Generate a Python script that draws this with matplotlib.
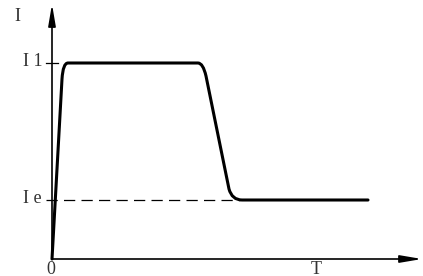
import matplotlib
matplotlib.use('Agg')
import matplotlib.pyplot as plt
from matplotlib.path import Path
from matplotlib.patches import PathPatch

# current levels
I1 = 196
Ie = 59
t_end = 316

# curve key points (time, current) with bezier corners
time_pts = [0, 10, 11, 16, 146, 151, 154, 177, 180, 190, t_end]
current_pts = [0, 180, I1, I1, I1, I1, 183, 70, Ie, Ie, Ie]
codes = [Path.MOVETO, Path.LINETO, Path.CURVE3, Path.CURVE3, Path.LINETO,
         Path.CURVE3, Path.CURVE3, Path.LINETO, Path.CURVE3, Path.CURVE3,
         Path.LINETO]

y_labels = ['I 1', 'I e']
y_levels = [I1, Ie]

plt.rcParams['font.family'] = ['Liberation Serif', 'DejaVu Serif']

fig = plt.figure(figsize=(4.23, 2.76), dpi=100)
ax = fig.add_axes([0, 0, 1, 1])
ax.set_xlim(-52, 371)
ax.set_ylim(-17, 259)
ax.axis('off')

# axes with arrows
arrow = dict(arrowstyle='-|>,head_length=1.3,head_width=0.22', mutation_scale=10,
             lw=1.2, color='black', shrinkA=0, shrinkB=0)
ax.annotate('', xy=(0, 255), xytext=(0, 0), arrowprops=arrow)
ax.annotate('', xy=(370, 0), xytext=(0, 0), arrowprops=arrow)

# I1 tick, Ie dashed reference
ax.plot([-6, 6], [I1, I1], color='black', lw=0.9)
ax.plot([-6, 188], [Ie, Ie], color='black', lw=0.9, dashes=(9, 5))

path = Path(list(zip(time_pts, current_pts)), codes)
ax.add_patch(PathPatch(path, facecolor='none', edgecolor='black', lw=2.2,
                       capstyle='round', joinstyle='round'))

tc = '#333333'
fs = 13
for lab, lev in zip(y_labels, y_levels):
    ax.text(-29, lev + 1.5, lab, ha='left', va='center', fontsize=fs, color=tc)
ax.text(-34.5, 242.5, 'I', ha='center', va='center', fontsize=fs, color=tc)
ax.text(-1, -10, '0', ha='center', va='center', fontsize=fs, color=tc)
ax.text(264, -10, 'T', ha='center', va='center', fontsize=fs, color=tc)

fig.savefig('out.png', dpi=100)
